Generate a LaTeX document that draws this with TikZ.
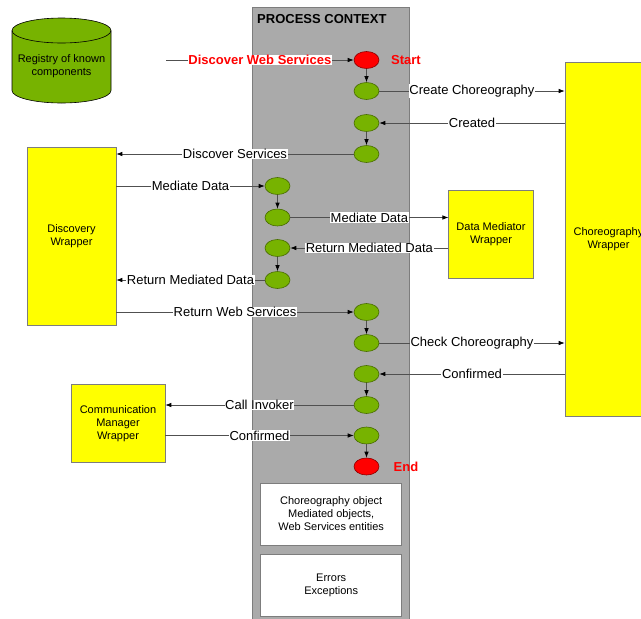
\documentclass[tikz,border=0pt]{standalone}
\usepackage{fontspec}
\setmainfont{Liberation Sans}
\usetikzlibrary{shapes.geometric,arrows.meta}
\definecolor{procgray}{RGB}{170,170,170}
\definecolor{boxedge}{RGB}{125,125,125}
\definecolor{evtgreen}{RGB}{119,179,0}
\definecolor{evtedge}{RGB}{72,108,0}
\definecolor{wrapyellow}{RGB}{255,255,0}
\definecolor{linegray}{RGB}{80,80,80}
\definecolor{alertred}{RGB}{255,0,0}
\begin{document}
\begin{tikzpicture}[x=1pt,y=-1pt,
  evt/.style={ellipse, draw=evtedge, fill=evtgreen, line width=0.6pt,
    minimum width=25pt, minimum height=17pt, inner sep=0pt},
  term/.style={evt, fill=alertred, draw=red!55!black},
  wrap/.style={rectangle, draw=boxedge, fill=wrapyellow, line width=0.6pt,
    inner sep=0pt, align=center, font=\fontsize{11}{13}\selectfont},
  store/.style={rectangle, draw=boxedge, fill=white, line width=0.6pt,
    inner sep=0pt, align=center, font=\fontsize{11}{13}\selectfont},
  conn/.style={draw=linegray, line width=0.7pt,
    -{Latex[length=6pt,width=4.5pt,color=black]}},
  lbl/.style={fill=white, inner sep=0.6pt, font=\fontsize{13}{15}\selectfont, text=black},
  alert/.style={font=\bfseries\fontsize{13}{15}\selectfont, text=alertred},
]
\useasboundingbox (0,0) rectangle (641,619);

% process context lane
\node[rectangle, draw=boxedge, fill=procgray, line width=0.6pt,
  minimum width=157pt, minimum height=618pt, inner sep=0pt] (ctx) at (330.5,316) {};
\node[anchor=west, inner sep=0pt, font=\bfseries\fontsize{13}{15}\selectfont] (ctxtitle) at (257,19) {PROCESS CONTEXT};

% registry cylinder
\fill[evtgreen] (12,30.5) -- (12,90.5) arc[start angle=180, end angle=360, x radius=49.5pt, y radius=12.5pt]
  -- (111,30.5) arc[start angle=0, end angle=180, x radius=49.5pt, y radius=12.5pt] -- cycle;
\draw[black, line width=0.6pt] (12,30.5) -- (12,90.5) arc[start angle=180, end angle=360, x radius=49.5pt, y radius=12.5pt] -- (111,30.5);
\draw[black, line width=0.6pt] (61.5,30.5) ellipse[x radius=49.5pt, y radius=12.5pt];
\node[align=center, inner sep=0pt, font=\fontsize{11}{13}\selectfont] (registry) at (61.5,66) {Registry of known\\components};

% wrappers
\node[wrap, minimum width=89pt, minimum height=178pt] (disc) at (71.5,236) {Discovery\\Wrapper};
\node[wrap, minimum width=84.5pt, minimum height=87.5pt] (dmed) at (491,234.5) {Data Mediator\\Wrapper};
\node[wrap, minimum width=87pt, minimum height=354pt] (chor) at (608.5,239) {Choreography\\Wrapper};
\node[wrap, minimum width=94pt, minimum height=77.5pt] (comm) at (118,423.5) {Communication\\Manager\\Wrapper};

% context storage boxes
\node[store, minimum width=141pt, minimum height=62.3pt] (objs) at (331.2,514) {Choreography object\\Mediated objects,\\Web Services entities};
\node[store, minimum width=141pt, minimum height=62.7pt] (errs) at (331.2,585.3) {Errors\\Exceptions};

% events
\node[term] (start) at (366.5,60) {};
\node[evt] (c1) at (366.5,91) {};
\node[evt] (c2) at (366.5,123) {};
\node[evt] (c3) at (366.5,154) {};
\node[evt] (d1) at (277.5,186) {};
\node[evt] (d2) at (277.5,217.5) {};
\node[evt] (d3) at (277.5,248) {};
\node[evt] (d4) at (277.5,280) {};
\node[evt] (e1) at (366.5,312) {};
\node[evt] (e2) at (366.5,343) {};
\node[evt] (e3) at (366.5,374) {};
\node[evt] (e4) at (366.5,405) {};
\node[evt] (e5) at (366.5,435.5) {};
\node[term] (end) at (366.5,466.5) {};

\node[alert, inner sep=0pt] (startlbl) at (406,60) {Start};
\node[alert, inner sep=0pt] (endlbl) at (406,466.5) {End};

% messages
\coordinate (dwsfrom) at (166,60);
\draw[conn] (dwsfrom) -- node[lbl, font=\bfseries\fontsize{13}{15}\selectfont, text=alertred] {Discover Web Services} (start.west);
\draw[conn] (start) -- (c1);
\draw[conn] (c1.east) -- node[lbl] {Create Choreography} (chor.west |- c1.east);
\draw[conn] (chor.west |- c2.east) -- node[lbl] {Created} (c2.east);
\draw[conn] (c2) -- (c3);
\draw[conn] (c3.west) -- node[lbl] {Discover Services} (disc.east |- c3.west);
\draw[conn] (disc.east |- d1.west) -- node[lbl] {Mediate Data} (d1.west);
\draw[conn] (d1) -- (d2);
\draw[conn] (d2.east) -- node[lbl] {Mediate Data} (dmed.west |- d2.east);
\draw[conn] (dmed.west |- d3.east) -- node[lbl] {Return Mediated Data} (d3.east);
\draw[conn] (d3) -- (d4);
\draw[conn] (d4.west) -- node[lbl] {Return Mediated Data} (disc.east |- d4.west);
\draw[conn] (disc.east |- e1.west) -- node[lbl] {Return Web Services} (e1.west);
\draw[conn] (e1) -- (e2);
\draw[conn] (e2.east) -- node[lbl] {Check Choreography} (chor.west |- e2.east);
\draw[conn] (chor.west |- e3.east) -- node[lbl] {Confirmed} (e3.east);
\draw[conn] (e3) -- (e4);
\draw[conn] (e4.west) -- node[lbl] {Call Invoker} (comm.east |- e4.west);
\draw[conn] (comm.east |- e5.west) -- node[lbl] {Confirmed} (e5.west);
\draw[conn] (e5) -- (end);
\end{tikzpicture}
\end{document}
